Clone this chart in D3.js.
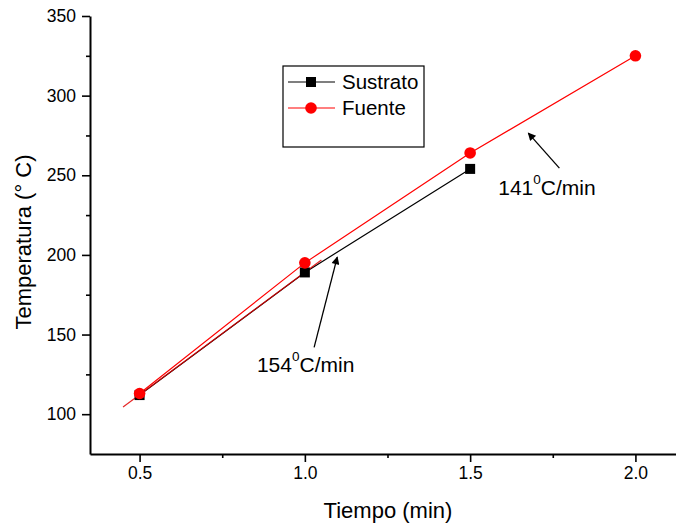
<!DOCTYPE html>
<html>
<head>
<meta charset="utf-8">
<script src="https://cdn.jsdelivr.net/npm/d3@7"></script>
<style>
body { margin: 0; background: #fff; }
svg { font-family: "Liberation Sans", Arial, sans-serif; }
</style>
</head>
<body>
<div id="main"></div>
<script>
var width = 676,
    height = 525;

// data
var sustratoX = [0.5, 1.0, 1.5];
var sustratoY = [112, 189, 254];
var fuenteX = [0.5, 1.0, 1.5, 2.0];
var fuenteY = [113, 195, 264, 325];
// linear fit segment (154 C/min)
var fitX = [0.45, 1.05];
var fitY = [104.5, 196.8];

var xTicks = [0.5, 1.0, 1.5, 2.0];
var xMinor = [0.75, 1.25, 1.75];
var yTicks = [100, 150, 200, 250, 300, 350];
var yMinor = [125, 175, 225, 275, 325];

var margin = {left: 90, top: 16, bottom: 454};

var x = d3.scaleLinear().domain([0.35, 2.15]).range([90, 685]);
var y = d3.scaleLinear().domain([75, 350]).range([454, 16]);

var svg = d3.select("#main").append("svg")
    .attr("width", width)
    .attr("height", height);

svg.append("defs").append("marker")
    .attr("id", "arrow")
    .attr("viewBox", "0 0 10 10")
    .attr("refX", 9)
    .attr("refY", 5)
    .attr("markerWidth", 11)
    .attr("markerHeight", 8)
    .attr("markerUnits", "userSpaceOnUse")
    .attr("orient", "auto")
    .append("path")
    .attr("d", "M0,0 L10,5 L0,10 z")
    .attr("fill", "#000");

// axes
svg.append("g")
    .attr("transform", "translate(0," + margin.bottom + ")")
    .call(d3.axisBottom(x).tickValues(xTicks).tickSize(8).tickSizeOuter(0).tickPadding(5)
        .tickFormat(d3.format(".1f")));
svg.append("g")
    .attr("transform", "translate(0," + margin.bottom + ")")
    .call(d3.axisBottom(x).tickValues(xMinor).tickSize(4).tickFormat(""))
    .select(".domain").remove();

svg.append("g")
    .attr("transform", "translate(" + margin.left + ",0)")
    .call(d3.axisLeft(y).tickValues(yTicks).tickSize(8).tickSizeOuter(0).tickPadding(6));
svg.append("g")
    .attr("transform", "translate(" + margin.left + ",0)")
    .call(d3.axisLeft(y).tickValues(yMinor).tickSize(4).tickFormat(""))
    .select(".domain").remove();

svg.selectAll(".domain").attr("stroke-width", 2);
svg.selectAll(".tick line").attr("stroke-width", 1.6);
svg.selectAll(".tick text")
    .style("font-size", "17.5px")
    .attr("fill", "#000");

// axis titles
svg.append("text")
    .attr("x", 388)
    .attr("y", 518)
    .attr("text-anchor", "middle")
    .style("font-size", "22px")
    .text("Tiempo (min)");

svg.append("text")
    .attr("transform", "translate(31,242) rotate(-90)")
    .attr("text-anchor", "middle")
    .style("font-size", "22px")
    .text("Temperatura (\u00b0 C)");

// lines
var line = d3.line()
    .x(function(d) { return x(d[0]); })
    .y(function(d) { return y(d[1]); });

var sustrato = d3.zip(sustratoX, sustratoY);
var fuente = d3.zip(fuenteX, fuenteY);
var fit = d3.zip(fitX, fitY);

svg.append("path")
    .datum(sustrato)
    .attr("d", line)
    .attr("fill", "none")
    .attr("stroke", "#000")
    .attr("stroke-width", 1.2);

svg.append("path")
    .datum(fuente)
    .attr("d", line)
    .attr("fill", "none")
    .attr("stroke", "#ff0000")
    .attr("stroke-width", 1.2);

svg.append("path")
    .datum(fit)
    .attr("d", line)
    .attr("fill", "none")
    .attr("stroke", "#e00000")
    .attr("stroke-width", 1.2)
    .attr("opacity", 0.85);

// markers
svg.selectAll(".sq")
    .data(sustrato)
    .enter().append("rect")
    .attr("class", "sq")
    .attr("x", function(d) { return x(d[0]) - 5; })
    .attr("y", function(d) { return y(d[1]) - 5; })
    .attr("width", 10)
    .attr("height", 10)
    .attr("fill", "#000");

svg.selectAll(".dot")
    .data(fuente)
    .enter().append("circle")
    .attr("class", "dot")
    .attr("cx", function(d) { return x(d[0]); })
    .attr("cy", function(d) { return y(d[1]); })
    .attr("r", 5.8)
    .attr("fill", "#ff0000");

// annotations
var notes = [
    {label: "141", tx: 1.585, ty: 237.6, ax: 1.77, ay: 254.5, bx: 1.676, by: 276.5},
    {label: "154", tx: 0.855, ty: 126.4, ax: 1.028, ay: 142, bx: 1.098, by: 198.6}
];

notes.forEach(function(n) {
    svg.append("line")
        .attr("x1", x(n.ax)).attr("y1", y(n.ay))
        .attr("x2", x(n.bx)).attr("y2", y(n.by))
        .attr("stroke", "#000")
        .attr("stroke-width", 1.3)
        .attr("marker-end", "url(#arrow)");
    var t = svg.append("text")
        .attr("x", x(n.tx))
        .attr("y", y(n.ty))
        .style("font-size", "21px");
    t.append("tspan").text(n.label);
    t.append("tspan").attr("dy", -11).style("font-size", "13.5px").text("0");
    t.append("tspan").attr("dy", 11).text("C/min");
});

// legend
var legend = svg.append("g").attr("transform", "translate(283,66)");
legend.append("rect")
    .attr("width", 141)
    .attr("height", 81)
    .attr("fill", "#fff")
    .attr("stroke", "#000")
    .attr("stroke-width", 1.2);

var legendItems = ["Sustrato", "Fuente"];
var legendColors = ["#000", "#ff0000"];

legendItems.forEach(function(name, i) {
    var ly = 16 + i * 26;
    legend.append("line")
        .attr("x1", 5).attr("x2", 52)
        .attr("y1", ly).attr("y2", ly)
        .attr("stroke", legendColors[i])
        .attr("stroke-width", 1.2);
    if (i == 0) {
        legend.append("rect")
            .attr("x", 23).attr("y", ly - 5)
            .attr("width", 10).attr("height", 10)
            .attr("fill", legendColors[i]);
    } else {
        legend.append("circle")
            .attr("cx", 28).attr("cy", ly)
            .attr("r", 5.8)
            .attr("fill", legendColors[i]);
    }
    legend.append("text")
        .attr("x", 59)
        .attr("y", ly + 7)
        .style("font-size", "20.5px")
        .text(name);
});
</script>
</body>
</html>
